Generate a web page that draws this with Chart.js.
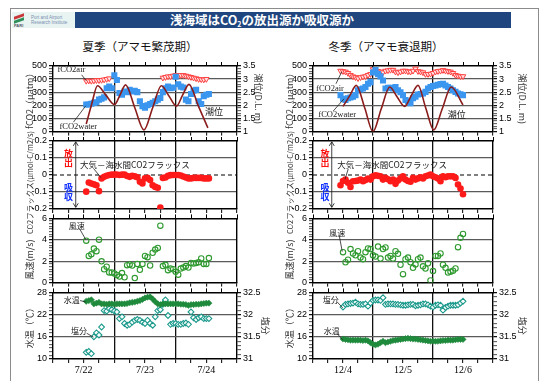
<!DOCTYPE html>
<html lang="ja">
<head>
<meta charset="utf-8">
<title>浅海域はCO2の放出源か吸収源か</title>
<script src="https://cdn.jsdelivr.net/npm/chart.js@4.4.1/dist/chart.umd.min.js"></script>
<style>
  body { margin: 0; width: 542px; height: 381px; overflow: hidden; background: #fff; position: relative; font-family: 'Noto Sans CJK JP', sans-serif; }
  canvas { position: absolute; }
  #frame { position: absolute; left: 10px; top: 8px; width: 527px; height: 380px; border: 1.5px solid #8c8c8c; border-bottom: none; }
  #logo { position: absolute; left: 12px; top: 12px; width: 63px; height: 16px; background: #e8f4f1; overflow: hidden; }
  #logo .mk1 { position: absolute; left: 2px; top: 3px; width: 10px; height: 3px; background: #c8373a; transform: skewY(-20deg); }
  #logo .mk2 { position: absolute; left: 2px; top: 7px; width: 10px; height: 3px; background: #2f8f5a; transform: skewY(-20deg); }
  #logo .pari { position: absolute; left: 2px; top: 11px; font: bold 4px 'Liberation Sans', sans-serif; color: #556; }
  #logo .lt { position: absolute; left: 19px; top: 3px; font: 4.5px/5px 'Liberation Sans', sans-serif; color: #7b8fb2; white-space: nowrap; }
  #bar { position: absolute; left: 75px; top: 12px; width: 436px; height: 16px; background: #1f467e; }
  #bar span { position: absolute; left: 0; width: 374px; top: 0; text-align: center; color: #fff; font: bold 12.5px/16px 'Noto Sans CJK JP', sans-serif; }
  #bar sub { font-size: 7px; vertical-align: -2px; }
  .sub { position: absolute; top: 38px; width: 160px; text-align: center; font: 11.5px/16px 'Noto Sans CJK JP', sans-serif; color: #111; }
</style>
</head>
<body>
<div id="frame"></div>
<div id="logo"><i class="mk1"></i><i class="mk2"></i><span class="pari">PARI</span><span class="lt">Port and Airport<br>Research Institute</span></div>
<div id="bar"><span>浅海域はCO<sub>2</sub>の放出源か吸収源か</span></div>
<div class="sub" style="left:60px">夏季（アマモ繁茂期）</div>
<div class="sub" style="left:306px">冬季（アマモ衰退期）</div>

<canvas id="s1" width="262" height="83" style="left:12px;top:56px"></canvas>
<canvas id="s2" width="262" height="126" style="left:12px;top:114px"></canvas>
<canvas id="s3" width="262" height="79" style="left:12px;top:211px"></canvas>
<canvas id="s4" width="262" height="96" style="left:12px;top:285px"></canvas>
<canvas id="w1" width="262" height="83" style="left:272px;top:56px"></canvas>
<canvas id="w2" width="262" height="126" style="left:272px;top:114px"></canvas>
<canvas id="w3" width="262" height="79" style="left:272px;top:211px"></canvas>
<canvas id="w4" width="262" height="96" style="left:272px;top:285px"></canvas>

<script>
const SANS = "'Liberation Sans', Arial, sans-serif";
const SERIF = "'Liberation Serif', 'Times New Roman', serif";
const JP = "'Noto Sans CJK JP', sans-serif";

// time axis, hours from the left edge of each panel
const dayLines = [24, 48];
const labelHours = [12, 36, 60];
const summerDays = ['7/22', '7/23', '7/24'];
const winterDays = ['12/4', '12/5', '12/6'];

// labelled ticks
const fco2Ticks = [0, 100, 200, 300, 400, 500];
const tideTicks = [1, 1.5, 2, 2.5, 3, 3.5];
const fluxTicks = [-0.2, -0.1, 0, 0.1, 0.2];
const windTicks = [0, 2, 4, 6];
const tempTicks = [10, 16, 22, 28];
const salTicks = [31, 31.5, 32, 32.5];

// summer (hourly)
const sumHours = [13,14,15,16,17,18,19,20,21,22,23,24,25,26,27,28,29,30,31,32,33,34,35,36,37,38,39,40,41,42,43,44,45,46,47,48,49,50,51,52,53,54,55,56,57,58,59,60,61];
const sumAir = [386,388,386,388,391,391,393,396,400,405,
  null,null,null,null,null,null,null,null,null,null,null,null,null,null,null,null,null,null,null,null,
  410,415,420,420,425,430,425,430,430,425,420,415,410,405,400,398,396,400,null];
const sumWater = [206,206,212,219,224,244,250,261,331,343,331,430,393,294,281,306,301,318,306,311,301,231,194,182,201,211,219,231,244,256,301,331,343,331,335,418,361,343,336,244,231,286,311,318,231,211,269,281,286];
const sumFlux = [-0.098,-0.044,-0.05,-0.055,-0.06,-0.095,-0.02,-0.011,-0.004,0,0.002,0.002,0.003,0,0.002,0.002,-0.006,-0.011,-0.005,-0.008,-0.013,-0.04,-0.05,-0.02,-0.017,-0.03,-0.06,-0.07,-0.075,-0.192,-0.017,-0.015,-0.005,-0.001,0,0,0,-0.003,-0.009,-0.015,-0.02,-0.02,-0.017,-0.017,-0.017,-0.017,-0.02,-0.02,-0.02];
const sumWind = [3.92,2.49,2.64,3.18,2.94,4.01,1.99,1.25,1.49,0.95,0.95,0.86,0.71,0.56,0.89,0.50,1.63,1.69,1.60,0.42,1.75,1.19,1.75,2.49,2.38,1.60,2.79,3.09,3.24,5.32,1.54,1.66,1.16,1.31,1.25,1.01,0.74,1.31,1.40,1.54,1.40,1.84,1.78,1.84,1.90,2.26,1.75,1.75,2.29];
const sumTemp = [25.6,25.8,26.0,24.9,25.1,25.3,24.9,24.9,24.8,24.9,24.9,24.8,24.9,24.9,24.9,24.9,25.0,25.2,25.3,25.4,25.6,25.8,26.1,26.5,26.7,26.8,26.2,25.5,24.9,24.7,24.9,24.9,24.9,24.9,24.9,24.9,24.9,24.8,24.8,24.7,24.5,24.7,24.7,24.8,24.8,24.9,25.0,25.1,25.1];
const sumSal = [31.15,31.17,31.12,31.50,31.59,31.54,31.72,32.09,32.08,32.13,32.11,32.08,32.06,31.91,31.95,31.80,31.76,31.78,31.83,31.87,31.89,31.87,31.83,31.80,31.87,31.80,31.76,31.95,32.09,32.11,32.23,32.33,31.98,31.78,31.80,31.80,31.78,31.78,31.80,31.81,31.78,32.06,31.93,31.89,31.93,31.95,31.91,31.91,31.91];
const sumTideH = [13.0,15.1,17.4,20.7,24.1,26.2,28.4,32.0,35.6,39.0,42.4,45.3,48.3,50.7,53.2,56.9,60.6];
const sumTide = [1.29,2.03,2.75,2.39,2.03,2.39,2.78,1.91,1.06,1.91,2.75,2.37,1.97,2.39,2.80,1.97,1.14];

// winter (hourly)
const winHours = [11,12,13,14,15,16,17,18,19,20,21,22,23,24,25,26,27,28,29,30,31,32,33,34,35,36,37,38,39,40,41,42,43,44,45,46,47,48,49,50,51,52,53,54,55,56,57,58,59,60];
const winAir = [463,460,456,446,431,420,414,406,414,418,421,431,438,475,463,460,456,451,463,466,470,470,456,451,456,463,463,458,456,463,480,460,456,451,438,438,440,446,456,460,463,468,463,460,456,446,431,425,421,421];
const winWater = [278,250,241,254,260,266,278,315,322,328,340,365,377,451,470,438,421,389,328,333,333,328,340,315,300,278,241,230,217,254,266,283,287,291,303,328,340,347,352,357,362,365,352,340,328,315,303,291,285,278];
const winFlux = [-0.06,-0.035,-0.027,-0.046,-0.071,-0.037,-0.035,-0.033,-0.027,-0.037,-0.03,-0.021,-0.027,-0.008,-0.002,-0.005,-0.008,-0.027,-0.017,-0.025,-0.037,-0.027,-0.052,-0.033,-0.02,-0.008,-0.027,-0.035,-0.04,-0.017,-0.027,-0.02,-0.013,-0.021,-0.008,-0.003,0.002,-0.008,-0.013,-0.02,-0.037,-0.008,-0.013,-0.008,-0.008,-0.008,-0.017,-0.056,-0.079,-0.113];
const winWind = [null,2.84,1.90,2.14,3.13,2.72,2.55,2.93,2.34,2.19,2.84,3.19,3.13,2.55,2.43,3.37,2.25,3.13,3.28,2.34,2.49,2.25,2.93,2.69,1.67,0.79,2.19,2.34,1.90,1.38,1.70,2.19,2.34,1.52,1.32,1.81,0.20,1.08,2.49,2.49,2.72,1.67,1.38,0.94,1.02,1.11,1.32,3.31,4.18,4.54];
const winTemp = [null,15.4,15.3,15.2,15.1,15.1,15.1,15.1,15.1,15.0,15.1,14.9,14.4,14.0,13.8,14.0,14.4,14.8,14.4,14.6,14.8,15.0,15.1,15.2,15.3,15.4,15.5,15.6,15.5,15.4,15.4,15.3,15.2,15.1,15.0,14.9,14.8,14.8,14.8,14.8,14.9,15.0,15.0,15.1,15.1,15.1,15.2,15.3,15.3,15.3];
const winSal = [null,32.17,32.23,32.24,32.25,32.26,32.28,32.24,32.23,32.23,32.24,32.19,32.26,32.32,32.33,32.33,32.32,32.38,32.23,32.24,32.24,32.24,32.23,32.23,32.22,32.21,32.21,32.22,32.23,32.23,32.2,32.21,32.22,32.24,32.24,32.22,32.19,32.17,32.21,32.22,32.21,32.1,32.16,32.19,32.21,32.21,32.21,32.22,32.26,32.3];
const winTideH = [12.0,14.7,17.3,20.7,24.0,27.3,30.7,33.6,36.7,39.3,42.0,45.1,48.3,51.7,55.3,60.0];
const winTide = [1.96,2.37,2.76,1.9,1.0,1.87,2.70,2.33,1.96,2.37,2.76,1.9,1.06,1.87,2.70,2.02];

function pts(xs, ys) {
  const out = [];
  xs.forEach((x, i) => { if (ys[i] !== null) out.push({ x: x, y: ys[i] }); });
  return out;
}

function has(list, v) {
  return list.some(t => Math.abs(t - v) < 1e-9);
}

// labels, leader lines, zero line, arrow
const deco = {
  id: 'deco',
  beforeDatasetsDraw(chart, args, o) {
    if (o.zero === undefined) return;
    const { ctx, chartArea: a, scales } = chart;
    const y = scales.y.getPixelForValue(o.zero);
    ctx.save();
    ctx.strokeStyle = '#000';
    ctx.lineWidth = 1.2;
    ctx.setLineDash([4, 3]);
    ctx.beginPath();
    ctx.moveTo(a.left, y);
    ctx.lineTo(a.right, y);
    ctx.stroke();
    ctx.restore();
  },
  afterDatasetsDraw(chart, args, o) {
    const { ctx, scales } = chart;
    const X = v => scales.x.getPixelForValue(v);
    ctx.save();
    (o.notes || []).forEach(n => {
      const Y = v => scales[n.axis || 'y'].getPixelForValue(v);
      if (n.line) {
        ctx.strokeStyle = '#222';
        ctx.lineWidth = 0.8;
        ctx.beginPath();
        ctx.moveTo(X(n.line[0]), Y(n.line[1]));
        ctx.lineTo(X(n.line[2]), Y(n.line[3]));
        ctx.stroke();
      }
      ctx.fillStyle = '#222';
      ctx.font = n.font || ('8px ' + JP);
      ctx.textAlign = n.align || 'center';
      ctx.textBaseline = 'middle';
      ctx.fillText(n.text, X(n.x), Y(n.y));
    });
    (o.vtext || []).forEach(t => {
      const x = X(t.x), y = scales.y.getPixelForValue(t.y);
      const chars = [...t.text];
      ctx.fillStyle = t.color;
      ctx.font = 'bold 9px ' + JP;
      ctx.textAlign = 'center';
      ctx.textBaseline = 'middle';
      chars.forEach((ch, i) => ctx.fillText(ch, x, y + (i - (chars.length - 1) / 2) * 9));
    });
    if (o.arrow) {
      const x = X(o.arrow.x), y1 = scales.y.getPixelForValue(o.arrow.y1), y2 = scales.y.getPixelForValue(o.arrow.y2);
      ctx.strokeStyle = '#111';
      ctx.lineWidth = 0.8;
      ctx.beginPath();
      ctx.moveTo(x, y1); ctx.lineTo(x, y2);
      ctx.moveTo(x - 2.5, y1 + 4); ctx.lineTo(x, y1); ctx.lineTo(x + 2.5, y1 + 4);
      ctx.moveTo(x - 2.5, y2 - 4); ctx.lineTo(x, y2); ctx.lineTo(x + 2.5, y2 - 4);
      ctx.stroke();
    }
    ctx.restore();
  }
};

function xScales(labels, topH, bottomH) {
  return {
    x: {
      type: 'linear', position: 'bottom', min: 0, max: 72,
      afterFit: s => { s.height = bottomH; },
      ticks: {
        stepSize: 6, maxTicksLimit: 1000, autoSkip: false, maxRotation: 0, padding: 1, color: '#000',
        font: { family: SERIF, size: 10 },
        callback: v => labels ? (labels[labelHours.indexOf(v)] || '') : ''
      },
      grid: {
        color: c => c.tick && dayLines.includes(c.tick.value) ? '#111' : 'rgba(0,0,0,0)',
        lineWidth: 1.3, tickLength: 4, tickColor: '#000', tickWidth: 1
      },
      border: { color: '#000', width: 1.4 }
    },
    xt: {
      type: 'linear', position: 'top', min: 0, max: 72,
      afterFit: s => { s.height = topH; },
      ticks: { stepSize: 6, maxTicksLimit: 1000, autoSkip: false, maxRotation: 0, callback: () => '' },
      grid: { drawOnChartArea: false, tickLength: 4, tickColor: '#000', tickWidth: 1 },
      border: { color: '#000', width: 1.4 }
    }
  };
}

function yScale(o) {
  const labels = o.labels || [];
  const grid = o.grid || [];
  return {
    type: 'linear', position: o.pos, min: o.min, max: o.max,
    afterFit: s => { s.width = o.width; },
    ticks: {
      display: labels.length > 0, stepSize: o.step || 1, maxTicksLimit: 1000, autoSkip: false,
      padding: 2, color: '#000', font: { family: SANS, size: 9 },
      callback: v => has(labels, v) ? String(v) : ''
    },
    grid: {
      drawOnChartArea: grid.length > 0, drawTicks: labels.length > 0,
      color: c => c.tick && has(grid, c.tick.value) ? '#5a5a5a' : 'rgba(0,0,0,0)',
      lineWidth: 1.3, tickLength: 4, tickColor: '#000',
      tickWidth: c => c.tick && has(labels, c.tick.value) ? 1.2 : 0.7
    },
    border: { color: '#000', width: 1.4 },
    title: o.title
      ? { display: true, text: o.title, color: '#333', font: { family: JP, size: o.tsize || 9 }, padding: { top: o.tpad, bottom: 0 } }
      : { display: false }
  };
}

function airSet(xs, ys) {
  return { data: pts(xs, ys), yAxisID: 'y', showLine: false, order: 3,
    pointStyle: 'triangle', pointRotation: 180, pointRadius: 3.2, pointBorderWidth: 1,
    pointBorderColor: '#ff4040', pointBackgroundColor: '#ffe2e2' };
}
function waterSet(xs, ys) {
  return { data: pts(xs, ys), yAxisID: 'y', showLine: false, order: 2,
    pointStyle: 'rect', pointRadius: 4.3, pointBorderWidth: 0, pointBackgroundColor: '#3a96ee' };
}
function tideSet(xs, ys) {
  return { data: pts(xs, ys), yAxisID: 'y2', showLine: true, order: 1, fill: false,
    borderColor: '#8b1c1c', borderWidth: 1.6, pointRadius: 0, cubicInterpolationMode: 'monotone' };
}
function fluxSet(xs, ys) {
  return { data: pts(xs, ys), yAxisID: 'y', showLine: false,
    pointStyle: 'circle', pointRadius: 3.3, pointBorderWidth: 0, pointBackgroundColor: '#ff1a1a' };
}
function windSet(xs, ys) {
  return { data: pts(xs, ys), yAxisID: 'y', showLine: false,
    pointStyle: 'circle', pointRadius: 2.7, pointBorderWidth: 1.1,
    pointBorderColor: '#2f9a2f', pointBackgroundColor: 'rgba(0,0,0,0)' };
}
function tempSet(xs, ys) {
  return { data: pts(xs, ys), yAxisID: 'y', showLine: false, order: 1,
    pointStyle: 'rectRot', pointRadius: 3.1, pointBorderWidth: 0.6,
    pointBorderColor: '#1f8a3c', pointBackgroundColor: '#1f8a3c' };
}
function salSet(xs, ys) {
  return { data: pts(xs, ys), yAxisID: 'y2', showLine: false, order: 2,
    pointStyle: 'rectRot', pointRadius: 2.9, pointBorderWidth: 1.1,
    pointBorderColor: '#1b9a8c', pointBackgroundColor: 'rgba(255,255,255,0.9)' };
}

function panel(id, datasets, scales, notes) {
  return new Chart(document.getElementById(id), {
    type: 'scatter',
    data: { datasets: datasets },
    options: {
      responsive: false, animation: false, events: [],
      layout: { autoPadding: false, padding: 0 },
      plugins: { legend: { display: false }, tooltip: { enabled: false }, deco: notes || {} },
      scales: scales
    },
    plugins: [deco]
  });
}

const ser = '8.5px ' + SERIF;
const jp9 = '9px ' + JP;
const fluxLabel = '大気－海水間CO2フラックス';
// trailing ideographic spaces push the rotated titles down a little, as in the original
const fluxTitle = 'CO2フラックス(μmol-C/m2/s)\u3000\u3000';
const windTitle = '風速(m/s)\u3000\u3000';

// ---- summer column ----
panel('s1',
  [tideSet(sumTideH, sumTide), waterSet(sumHours, sumWater), airSet(sumHours, sumAir)],
  Object.assign(xScales(null, 10, 6), {
    y: yScale({ pos: 'left', min: 0, max: 500, step: 20, labels: fco2Ticks, grid: [100, 200, 300, 400], width: 41, title: 'fCO2（μatm）', tpad: 12.6 }),
    y2: yScale({ pos: 'right', min: 1, max: 3.5, step: 0.1, labels: tideTicks, width: 37, title: '潮位(D.L. m)', tpad: 10.6 })
  }),
  { notes: [
    { text: 'fCO2air', x: 7.2, y: 470, font: ser, line: [11.2, 433, 13, 388] },
    { text: 'fCO2water', x: 9.9, y: 40, font: ser, line: [8.0, 72, 12.8, 196] },
    { text: '潮位', x: 63, y: 150, font: jp9 }
  ] });

panel('s2',
  [fluxSet(sumHours, sumFlux)],
  Object.assign(xScales(null, 27, 31), {
    y: yScale({ pos: 'left', min: -0.2, max: 0.2, step: 0.02, labels: fluxTicks, grid: [-0.1, 0.1], width: 41, title: fluxTitle, tsize: 7.5, tpad: 13.5 }),
    y2: yScale({ pos: 'right', min: 0, max: 1, width: 37 })
  }),
  { zero: 0,
    notes: [{ text: fluxLabel, x: 10.6, y: 0.059, align: 'left', font: '8.5px ' + JP, line: [16.0, 0.036, 18.8, -0.016] }],
    vtext: [{ text: '放出', x: 6.1, y: 0.1, color: '#ff1010' }, { text: '吸収', x: 6.1, y: -0.1, color: '#1030ff' }],
    arrow: { x: 8.9, y1: 0.195, y2: -0.19 } });

panel('s3',
  [windSet(sumHours, sumWind)],
  Object.assign(xScales(null, 6, 6), {
    y: yScale({ pos: 'left', min: 0, max: 6, step: 0.25, labels: windTicks, grid: [2, 4], width: 41, title: windTitle, tpad: 12.6 }),
    y2: yScale({ pos: 'right', min: 0, max: 1, width: 37 })
  }),
  { notes: [{ text: '風速', x: 9.3, y: 5.28, line: [10.6, 4.95, 12.8, 4.03] }] });

panel('s4',
  [tempSet(sumHours, sumTemp), salSet(sumHours, sumSal)],
  Object.assign(xScales(summerDays, 6, 22), {
    y: yScale({ pos: 'left', min: 10, max: 28, step: 1, labels: tempTicks, grid: [16, 22], width: 41, title: '水温（℃）', tpad: 12.6 }),
    y2: yScale({ pos: 'right', min: 31, max: 32.5, step: 0.1, labels: salTicks, width: 37, title: '塩分', tpad: 3.6 })
  }),
  { notes: [
    { text: '水温', x: 7.3, y: 26.07, line: [10.6, 25.8, 12.8, 25.4] },
    { text: '塩分', x: 10.2, y: 17.5, line: [13.2, 16.96, 15.8, 15.9] }
  ] });

// ---- winter column ----
panel('w1',
  [tideSet(winTideH, winTide), waterSet(winHours, winWater), airSet(winHours, winAir)],
  Object.assign(xScales(null, 10, 6), {
    y: yScale({ pos: 'left', min: 0, max: 500, step: 20, labels: fco2Ticks, grid: [100, 200, 300, 400], width: 41, title: 'fCO2（μatm）', tpad: 12.6 }),
    y2: yScale({ pos: 'right', min: 1, max: 3.5, step: 0.1, labels: tideTicks, width: 41, title: '潮位(D.L. m)', tpad: 6.6 })
  }),
  { notes: [
    { text: 'fCO2air', x: 6.8, y: 328, font: ser, line: [9.2, 365, 11.5, 456] },
    { text: 'fCO2water', x: 9.7, y: 125, font: ser, line: [8.1, 157, 12.4, 250] },
    { text: '潮位', x: 57.5, y: 132, font: jp9 }
  ] });

panel('w2',
  [fluxSet(winHours, winFlux)],
  Object.assign(xScales(null, 27, 31), {
    y: yScale({ pos: 'left', min: -0.2, max: 0.2, step: 0.02, labels: fluxTicks, grid: [-0.1, 0.1], width: 41, title: fluxTitle, tsize: 7.5, tpad: 13.5 }),
    y2: yScale({ pos: 'right', min: 0, max: 1, width: 41 })
  }),
  { zero: 0,
    notes: [{ text: fluxLabel, x: 9.7, y: 0.063, align: 'left', font: '8.5px ' + JP, line: [14.1, 0.036, 12.8, -0.025] }],
    vtext: [{ text: '放出', x: 4.8, y: 0.1, color: '#ff1010' }, { text: '吸収', x: 4.8, y: -0.1, color: '#1030ff' }],
    arrow: { x: 7.5, y1: 0.195, y2: -0.19 } });

panel('w3',
  [windSet(winHours, winWind)],
  Object.assign(xScales(null, 6, 6), {
    y: yScale({ pos: 'left', min: 0, max: 6, step: 0.25, labels: windTicks, grid: [2, 4], width: 41, title: windTitle, tpad: 12.6 }),
    y2: yScale({ pos: 'right', min: 0, max: 1, width: 41 })
  }),
  { notes: [{ text: '風速', x: 9.7, y: 4.68, line: [10.5, 4.39, 11.7, 2.9] }] });

panel('w4',
  [tempSet(winHours, winTemp), salSet(winHours, winSal)],
  Object.assign(xScales(winterDays, 6, 22), {
    y: yScale({ pos: 'left', min: 10, max: 28, step: 1, labels: tempTicks, grid: [16, 22], width: 41, title: '水温（℃）', tpad: 12.6 }),
    y2: yScale({ pos: 'right', min: 31, max: 32.5, step: 0.1, labels: salTicks, width: 41, title: '塩分', tpad: 6.6 })
  }),
  { notes: [
    { text: '塩分', x: 7.1, y: 26.07, line: [9.7, 25.4, 11.9, 23.8] },
    { text: '水温', x: 7.5, y: 17.7, line: [9.7, 16.8, 11.9, 15.2] }
  ] });
</script>
</body>
</html>
